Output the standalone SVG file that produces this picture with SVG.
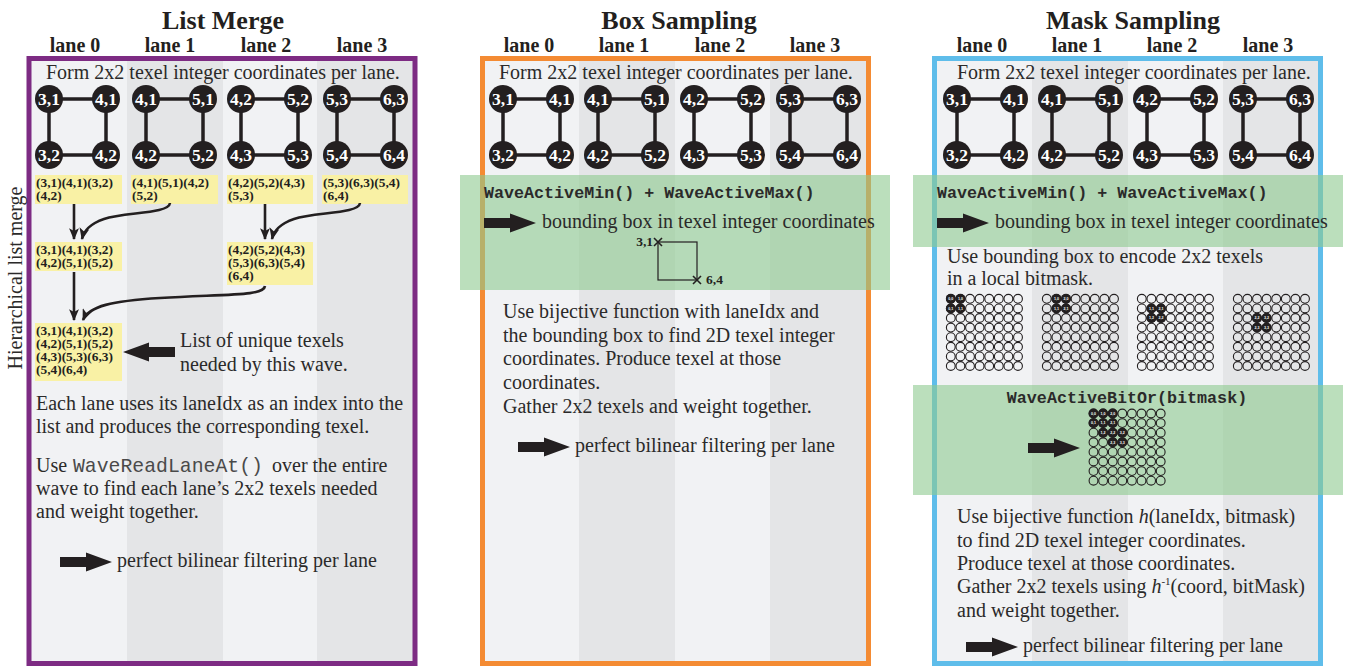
<svg xmlns="http://www.w3.org/2000/svg" xmlns:xlink="http://www.w3.org/1999/xlink" width="1352" height="666" viewBox="0 0 1352 666">
  <style>
    .title { font-family: "Liberation Serif", serif; font-weight: bold; font-size: 26px; fill: #231F20; text-anchor: middle; }
    .lane { font-family: "Liberation Serif", serif; font-weight: bold; font-size: 20px; fill: #231F20; text-anchor: middle; }
    .body { font-family: "Liberation Serif", serif; font-size: 20px; fill: #2B2A2A; }
    .mono { font-family: "Liberation Mono", monospace; font-size: 19.8px; fill: #4A4A4A; }
    .monob { font-family: "Liberation Mono", monospace; font-weight: bold; font-size: 16.7px; fill: #2B2A2A; }
    .node { font-family: "Liberation Serif", serif; font-weight: bold; font-size: 17.5px; fill: #FFFFFF; text-anchor: middle; }
    .list { font-family: "Liberation Serif", serif; font-weight: bold; font-size: 13.4px; fill: #231F20; }
    .small { font-family: "Liberation Serif", serif; font-weight: bold; font-size: 13.5px; fill: #231F20; }
    .bit { font-family: "Liberation Sans", sans-serif; font-weight: bold; font-size: 3.6px; fill: #FFFFFF; text-anchor: middle; }
    .light { fill: #F1F2F4; }
    .dark { fill: #E4E5E7; }
    .yellow { fill: #F9F1A5; }
    .band { fill: rgb(141,202,144); fill-opacity: 0.6; }
    .frame { fill: none; stroke-width: 5; }
    .edge { fill: none; stroke: #231F20; stroke-width: 3.5; }
    .dot { fill: #231F20; }
    .flow { fill: none; stroke: #231F20; stroke-width: 2.6; marker-end: url(#head); }
    .cell { fill: none; stroke: #231F20; stroke-width: 1.1; }
    .big { fill: #231F20; }
  </style>
  <defs>
    <marker id="head" viewBox="0 0 12 10" refX="11" refY="5" markerWidth="4.6" markerHeight="3.8" orient="auto" markerUnits="strokeWidth">
      <path d="M0,0 L12,5 L0,10 L3,5 Z" fill="#231F20"/>
    </marker>
    <!-- block arrow, tail at x=0, tip at x=52 -->
    <path id="fat" d="M0,-5 H26 V-9.5 L52,0 L26,9.5 V5 H0 Z"/>
    <!-- 2x2 texel quad: frame plus four corner dots -->
    <g id="quad">
      <rect class="edge" x="0" y="0" width="57" height="56"/>
      <circle class="dot" cx="0" cy="0" r="14"/>
      <circle class="dot" cx="57" cy="0" r="14"/>
      <circle class="dot" cx="0" cy="56" r="14"/>
      <circle class="dot" cx="57" cy="56" r="14"/>
    </g>
    <!-- 8x8 bitmask grid -->
    <g id="row">
      <circle class="cell" cx="0" cy="0" r="4.4"/>
      <circle class="cell" cx="9.6" cy="0" r="4.4"/>
      <circle class="cell" cx="19.2" cy="0" r="4.4"/>
      <circle class="cell" cx="28.8" cy="0" r="4.4"/>
      <circle class="cell" cx="38.4" cy="0" r="4.4"/>
      <circle class="cell" cx="48" cy="0" r="4.4"/>
      <circle class="cell" cx="57.6" cy="0" r="4.4"/>
      <circle class="cell" cx="67.2" cy="0" r="4.4"/>
    </g>
    <g id="grid">
      <use xlink:href="#row" y="0"/>
      <use xlink:href="#row" y="9.6"/>
      <use xlink:href="#row" y="19.2"/>
      <use xlink:href="#row" y="28.8"/>
      <use xlink:href="#row" y="38.4"/>
      <use xlink:href="#row" y="48"/>
      <use xlink:href="#row" y="57.6"/>
      <use xlink:href="#row" y="67.2"/>
    </g>
  </defs>

  <rect width="1352" height="666" fill="#FFFFFF"/>

  <!-- ================= List Merge ================= -->
  <g id="panel-list-merge">
    <rect class="light" x="31" y="61" width="96" height="602"/>
    <rect class="dark" x="127" y="61" width="96" height="602"/>
    <rect class="light" x="223" y="61" width="94" height="602"/>
    <rect class="dark" x="317" y="61" width="96" height="602"/>
    <rect class="frame" stroke="#7D2B83" x="29" y="58.5" width="386" height="605"/>
    <text class="title" x="223" y="29">List Merge</text>
    <text class="lane" x="75" y="52">lane 0</text>
    <text class="lane" x="170" y="52">lane 1</text>
    <text class="lane" x="266" y="52">lane 2</text>
    <text class="lane" x="362" y="52">lane 3</text>
    <text class="body" x="46" y="79">Form 2x2 texel integer coordinates per lane.</text>
    <text class="body" transform="translate(22,278) rotate(-90)" text-anchor="middle">Hierarchical list merge</text>
  </g>

  <g id="lm-quad-0">
    <use xlink:href="#quad" x="49" y="99"/>
    <text class="node" x="49" y="105">3,1</text><text class="node" x="106" y="105">4,1</text>
    <text class="node" x="49" y="161">3,2</text><text class="node" x="106" y="161">4,2</text>
  </g>
  <g id="lm-quad-1">
    <use xlink:href="#quad" x="146" y="99"/>
    <text class="node" x="146" y="105">4,1</text><text class="node" x="203" y="105">5,1</text>
    <text class="node" x="146" y="161">4,2</text><text class="node" x="203" y="161">5,2</text>
  </g>
  <g id="lm-quad-2">
    <use xlink:href="#quad" x="241" y="99"/>
    <text class="node" x="241" y="105">4,2</text><text class="node" x="298" y="105">5,2</text>
    <text class="node" x="241" y="161">4,3</text><text class="node" x="298" y="161">5,3</text>
  </g>
  <g id="lm-quad-3">
    <use xlink:href="#quad" x="337" y="99"/>
    <text class="node" x="337" y="105">5,3</text><text class="node" x="394" y="105">6,3</text>
    <text class="node" x="337" y="161">5,4</text><text class="node" x="394" y="161">6,4</text>
  </g>

  <!-- per-lane lists -->
  <g id="list-l0">
    <rect class="yellow" x="35" y="175" width="87" height="29"/>
    <text class="list" x="36" y="187">(3,1)(4,1)(3,2)</text>
    <text class="list" x="36" y="200">(4,2)</text>
  </g>
  <g id="list-l1">
    <rect class="yellow" x="131" y="175" width="87" height="29"/>
    <text class="list" x="132" y="187">(4,1)(5,1)(4,2)</text>
    <text class="list" x="132" y="200">(5,2)</text>
  </g>
  <g id="list-l2">
    <rect class="yellow" x="227" y="175" width="86" height="29"/>
    <text class="list" x="228" y="187">(4,2)(5,2)(4,3)</text>
    <text class="list" x="228" y="200">(5,3)</text>
  </g>
  <g id="list-l3">
    <rect class="yellow" x="322" y="175" width="86" height="29"/>
    <text class="list" x="323" y="187">(5,3)(6,3)(5,4)</text>
    <text class="list" x="323" y="200">(6,4)</text>
  </g>
  <g id="list-l01">
    <rect class="yellow" x="35" y="242" width="87" height="29"/>
    <text class="list" x="36" y="254">(3,1)(4,1)(3,2)</text>
    <text class="list" x="36" y="267">(4,2)(5,1)(5,2)</text>
  </g>
  <g id="list-l23">
    <rect class="yellow" x="227" y="242" width="86" height="43"/>
    <text class="list" x="228" y="254">(4,2)(5,2)(4,3)</text>
    <text class="list" x="228" y="267">(5,3)(6,3)(5,4)</text>
    <text class="list" x="228" y="280">(6,4)</text>
  </g>
  <g id="list-all">
    <rect class="yellow" x="35" y="323" width="87" height="58"/>
    <text class="list" x="36" y="335">(3,1)(4,1)(3,2)</text>
    <text class="list" x="36" y="348">(4,2)(5,1)(5,2)</text>
    <text class="list" x="36" y="361">(4,3)(5,3)(6,3)</text>
    <text class="list" x="36" y="374">(5,4)(6,4)</text>
  </g>

  <g id="connectors">
    <path class="flow" d="M74,204 V239"/>
    <path class="flow" d="M170,203 C169,214 125,212 104,219 C90,224 84,230 82,239"/>
    <path class="flow" d="M265,204 V239"/>
    <path class="flow" d="M360,203 C359,214 315,212 294,219 C280,224 274,230 272,239"/>
    <path class="flow" d="M74,272 V320"/>
    <path class="flow" d="M265,286 C264,296 230,294 160,298 C112,301 89,306 83,320"/>
  </g>

  <g id="lm-notes">
    <use xlink:href="#fat" class="big" transform="translate(175,352) rotate(180)"/>
    <text class="body" x="180" y="347">List of unique texels</text>
    <text class="body" x="180" y="371">needed by this wave.</text>
    <text class="body" x="36" y="410">Each lane uses its laneIdx as an index into the</text>
    <text class="body" x="36" y="433">list and produces the corresponding texel.</text>
    <text class="body" x="36" y="472">Use <tspan class="mono" x="73">WaveReadLaneAt()</tspan><tspan x="272">over the entire</tspan></text>
    <text class="body" x="36" y="495">wave to find each lane’s 2x2 texels needed</text>
    <text class="body" x="36" y="518">and weight together.</text>
    <use xlink:href="#fat" class="big" x="60" y="562"/>
    <text class="body" x="117" y="567">perfect bilinear filtering per lane</text>
  </g>

  <!-- ================= Box Sampling ================= -->
  <g id="panel-box-sampling">
    <rect class="light" x="484" y="61" width="95" height="602"/>
    <rect class="dark" x="579" y="61" width="96" height="602"/>
    <rect class="light" x="675" y="61" width="95" height="602"/>
    <rect class="dark" x="770" y="61" width="97" height="602"/>
    <rect class="frame" stroke="#F48B33" x="482.5" y="58.5" width="386" height="605"/>
    <text class="title" x="679" y="29">Box Sampling</text>
    <text class="lane" x="529" y="52">lane 0</text>
    <text class="lane" x="624" y="52">lane 1</text>
    <text class="lane" x="720" y="52">lane 2</text>
    <text class="lane" x="815" y="52">lane 3</text>
    <text class="body" x="499" y="79">Form 2x2 texel integer coordinates per lane.</text>
  </g>

  <g id="bs-quad-0">
    <use xlink:href="#quad" x="503" y="99"/>
    <text class="node" x="503" y="105">3,1</text><text class="node" x="560" y="105">4,1</text>
    <text class="node" x="503" y="161">3,2</text><text class="node" x="560" y="161">4,2</text>
  </g>
  <g id="bs-quad-1">
    <use xlink:href="#quad" x="598" y="99"/>
    <text class="node" x="598" y="105">4,1</text><text class="node" x="655" y="105">5,1</text>
    <text class="node" x="598" y="161">4,2</text><text class="node" x="655" y="161">5,2</text>
  </g>
  <g id="bs-quad-2">
    <use xlink:href="#quad" x="694" y="99"/>
    <text class="node" x="694" y="105">4,2</text><text class="node" x="751" y="105">5,2</text>
    <text class="node" x="694" y="161">4,3</text><text class="node" x="751" y="161">5,3</text>
  </g>
  <g id="bs-quad-3">
    <use xlink:href="#quad" x="790" y="99"/>
    <text class="node" x="790" y="105">5,3</text><text class="node" x="847" y="105">6,3</text>
    <text class="node" x="790" y="161">5,4</text><text class="node" x="847" y="161">6,4</text>
  </g>

  <g id="bs-bounds">
    <rect class="band" x="460" y="175" width="430" height="115"/>
    <text class="monob" x="484" y="198">WaveActiveMin() + WaveActiveMax()</text>
    <use xlink:href="#fat" class="big" x="484" y="223"/>
    <text class="body" x="542" y="228">bounding box in texel integer coordinates</text>
    <rect x="658" y="242" width="39" height="38" fill="none" stroke="#231F20" stroke-width="1.2"/>
    <path d="M654,238 L662,246 M662,238 L654,246 M693,276 L701,284 M701,276 L693,284" stroke="#231F20" stroke-width="1.6" fill="none"/>
    <text class="small" x="653" y="246" text-anchor="end">3,1</text>
    <text class="small" x="706" y="284">6,4</text>
  </g>

  <g id="bs-notes">
    <text class="body" x="503" y="318">Use bijective function with laneIdx and</text>
    <text class="body" x="503" y="342">the bounding box to find 2D texel integer</text>
    <text class="body" x="503" y="365">coordinates. Produce texel at those</text>
    <text class="body" x="503" y="389">coordinates.</text>
    <text class="body" x="503" y="413">Gather 2x2 texels and weight together.</text>
    <use xlink:href="#fat" class="big" x="518" y="447"/>
    <text class="body" x="575" y="452">perfect bilinear filtering per lane</text>
  </g>

  <!-- ================= Mask Sampling ================= -->
  <g id="panel-mask-sampling">
    <rect class="light" x="936" y="61" width="96" height="602"/>
    <rect class="dark" x="1032" y="61" width="96" height="602"/>
    <rect class="light" x="1128" y="61" width="95" height="602"/>
    <rect class="dark" x="1223" y="61" width="96" height="602"/>
    <rect class="frame" stroke="#5FBDEA" x="934.5" y="58.5" width="386" height="605"/>
    <text class="title" x="1133" y="29">Mask Sampling</text>
    <text class="lane" x="982" y="52">lane 0</text>
    <text class="lane" x="1077" y="52">lane 1</text>
    <text class="lane" x="1172" y="52">lane 2</text>
    <text class="lane" x="1268" y="52">lane 3</text>
    <text class="body" x="957" y="79">Form 2x2 texel integer coordinates per lane.</text>
  </g>

  <g id="ms-quad-0">
    <use xlink:href="#quad" x="957" y="99"/>
    <text class="node" x="957" y="105">3,1</text><text class="node" x="1014" y="105">4,1</text>
    <text class="node" x="957" y="161">3,2</text><text class="node" x="1014" y="161">4,2</text>
  </g>
  <g id="ms-quad-1">
    <use xlink:href="#quad" x="1052" y="99"/>
    <text class="node" x="1052" y="105">4,1</text><text class="node" x="1109" y="105">5,1</text>
    <text class="node" x="1052" y="161">4,2</text><text class="node" x="1109" y="161">5,2</text>
  </g>
  <g id="ms-quad-2">
    <use xlink:href="#quad" x="1147" y="99"/>
    <text class="node" x="1147" y="105">4,2</text><text class="node" x="1204" y="105">5,2</text>
    <text class="node" x="1147" y="161">4,3</text><text class="node" x="1204" y="161">5,3</text>
  </g>
  <g id="ms-quad-3">
    <use xlink:href="#quad" x="1243" y="99"/>
    <text class="node" x="1243" y="105">5,3</text><text class="node" x="1300" y="105">6,3</text>
    <text class="node" x="1243" y="161">5,4</text><text class="node" x="1300" y="161">6,4</text>
  </g>

  <g id="ms-bounds">
    <rect class="band" x="913" y="175" width="430" height="72"/>
    <text class="monob" x="937" y="198">WaveActiveMin() + WaveActiveMax()</text>
    <use xlink:href="#fat" class="big" x="937" y="223"/>
    <text class="body" x="995" y="228">bounding box in texel integer coordinates</text>
    <text class="body" x="947" y="263" font-size="19px" textLength="316" lengthAdjust="spacing">Use bounding box to encode 2x2 texels</text>
    <text class="body" x="947" y="285" font-size="19px" textLength="146" lengthAdjust="spacing">in a local bitmask.</text>
  </g>

  <!-- local bitmasks, one per lane -->
  <g id="mask-l0" transform="translate(950.8,298.8)">
    <use xlink:href="#grid"/>
    <circle class="dot" cx="0" cy="0" r="4.9"/><circle class="dot" cx="9.6" cy="0" r="4.9"/>
    <circle class="dot" cx="0" cy="9.6" r="4.9"/><circle class="dot" cx="9.6" cy="9.6" r="4.9"/>
    <text class="bit" x="0" y="1.3">0,0</text><text class="bit" x="9.6" y="1.3">1,0</text>
    <text class="bit" x="0" y="10.9">0,1</text><text class="bit" x="9.6" y="10.9">1,1</text>
  </g>
  <g id="mask-l1" transform="translate(1046.8,298.8)">
    <use xlink:href="#grid"/>
    <circle class="dot" cx="9.6" cy="0" r="4.9"/><circle class="dot" cx="19.2" cy="0" r="4.9"/>
    <circle class="dot" cx="9.6" cy="9.6" r="4.9"/><circle class="dot" cx="19.2" cy="9.6" r="4.9"/>
    <text class="bit" x="9.6" y="1.3">1,0</text><text class="bit" x="19.2" y="1.3">2,0</text>
    <text class="bit" x="9.6" y="10.9">1,1</text><text class="bit" x="19.2" y="10.9">2,1</text>
  </g>
  <g id="mask-l2" transform="translate(1141.8,298.8)">
    <use xlink:href="#grid"/>
    <circle class="dot" cx="9.6" cy="9.6" r="4.9"/><circle class="dot" cx="19.2" cy="9.6" r="4.9"/>
    <circle class="dot" cx="9.6" cy="19.2" r="4.9"/><circle class="dot" cx="19.2" cy="19.2" r="4.9"/>
    <text class="bit" x="9.6" y="10.9">1,1</text><text class="bit" x="19.2" y="10.9">2,1</text>
    <text class="bit" x="9.6" y="20.5">1,2</text><text class="bit" x="19.2" y="20.5">2,2</text>
  </g>
  <g id="mask-l3" transform="translate(1237.8,298.8)">
    <use xlink:href="#grid"/>
    <circle class="dot" cx="19.2" cy="19.2" r="4.9"/><circle class="dot" cx="28.8" cy="19.2" r="4.9"/>
    <circle class="dot" cx="19.2" cy="28.8" r="4.9"/><circle class="dot" cx="28.8" cy="28.8" r="4.9"/>
    <text class="bit" x="19.2" y="20.5">2,2</text><text class="bit" x="28.8" y="20.5">3,2</text>
    <text class="bit" x="19.2" y="30.1">2,3</text><text class="bit" x="28.8" y="30.1">3,3</text>
  </g>

  <g id="ms-bitor">
    <rect class="band" x="913" y="385" width="430" height="110"/>
    <text class="monob" x="1127" y="403" text-anchor="middle">WaveActiveBitOr(bitmask)</text>
    <use xlink:href="#fat" class="big" x="1028" y="448"/>
  </g>
  <g id="mask-union" transform="translate(1093.5,413.5)">
    <use xlink:href="#grid"/>
    <circle class="dot" cx="0" cy="0" r="4.9"/><circle class="dot" cx="9.6" cy="0" r="4.9"/><circle class="dot" cx="19.2" cy="0" r="4.9"/>
    <circle class="dot" cx="0" cy="9.6" r="4.9"/><circle class="dot" cx="9.6" cy="9.6" r="4.9"/><circle class="dot" cx="19.2" cy="9.6" r="4.9"/>
    <circle class="dot" cx="9.6" cy="19.2" r="4.9"/><circle class="dot" cx="19.2" cy="19.2" r="4.9"/><circle class="dot" cx="28.8" cy="19.2" r="4.9"/>
    <circle class="dot" cx="19.2" cy="28.8" r="4.9"/><circle class="dot" cx="28.8" cy="28.8" r="4.9"/>
    <text class="bit" x="0" y="1.3">0,0</text><text class="bit" x="9.6" y="1.3">1,0</text><text class="bit" x="19.2" y="1.3">2,0</text>
    <text class="bit" x="0" y="10.9">0,1</text><text class="bit" x="9.6" y="10.9">1,1</text><text class="bit" x="19.2" y="10.9">2,1</text>
    <text class="bit" x="9.6" y="20.5">1,2</text><text class="bit" x="19.2" y="20.5">2,2</text><text class="bit" x="28.8" y="20.5">3,2</text>
    <text class="bit" x="19.2" y="30.1">2,3</text><text class="bit" x="28.8" y="30.1">3,3</text>
  </g>

  <g id="ms-notes">
    <text class="body" x="957" y="523">Use bijective function <tspan font-style="italic">h</tspan>(laneIdx, bitmask)</text>
    <text class="body" x="957" y="547">to find 2D texel integer coordinates.</text>
    <text class="body" x="957" y="570">Produce texel at those coordinates.</text>
    <text class="body" x="957" y="593">Gather 2x2 texels using <tspan font-style="italic">h</tspan><tspan font-size="11px" dy="-8">-1</tspan><tspan dy="8">(coord, bitMask)</tspan></text>
    <text class="body" x="957" y="617">and weight together.</text>
    <use xlink:href="#fat" class="big" x="966" y="647"/>
    <text class="body" x="1023" y="652">perfect bilinear filtering per lane</text>
  </g>
</svg>
